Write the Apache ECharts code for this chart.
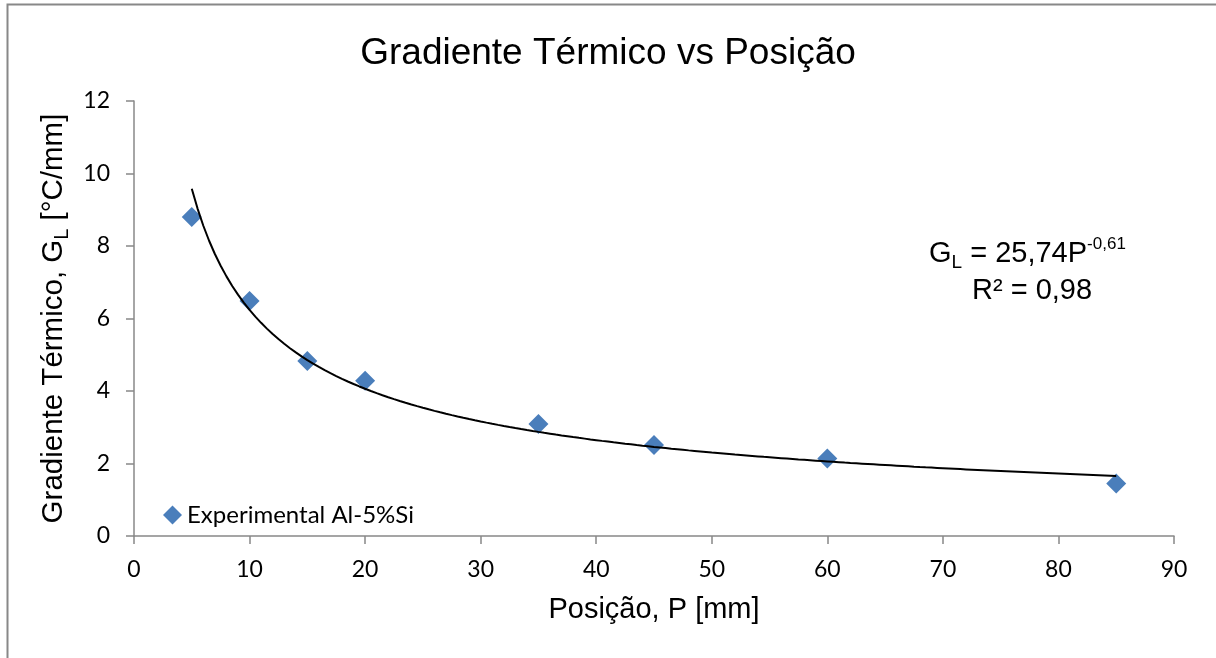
<!DOCTYPE html>
<html>
<head>
<meta charset="utf-8">
<script src="https://cdn.jsdelivr.net/npm/echarts@6/dist/echarts.min.js"></script>
<style>
html,body{margin:0;padding:0;background:#fff;}
#chart{width:1216px;height:658px;}
</style>
</head>
<body>
<div id="chart"></div>
<script>
// ---- data ----
const positions = [5, 10, 15, 20, 35, 45, 60, 85];          // P [mm]
const gradients = [8.80, 6.48, 4.83, 4.28, 3.09, 2.51, 2.14, 1.45]; // G_L [°C/mm]
const xTicks = [0, 10, 20, 30, 40, 50, 60, 70, 80, 90];
const yTicks = [0, 2, 4, 6, 8, 10, 12];
const seriesName = 'Experimental Al-5%Si';
const titleText = 'Gradiente Térmico vs Posição';
const eqCoef = '25,74';
const eqExp = '-0,61';
const r2Text = 'R² = 0,98';

// power trendline (least squares in log-log space, as Excel does), fitted from the data
function powerFit(xs, ys) {
  const n = xs.length;
  let sx = 0, sy = 0, sxx = 0, sxy = 0;
  for (let i = 0; i < n; i++) {
    const lx = Math.log(xs[i]), ly = Math.log(ys[i]);
    sx += lx; sy += ly; sxx += lx * lx; sxy += lx * ly;
  }
  const b = (n * sxy - sx * sy) / (n * sxx - sx * sx);
  const a = Math.exp((sy - b * sx) / n);
  return { a, b };
}
const fit = powerFit(positions, gradients);
const xMin = positions[0], xMax = positions[positions.length - 1];
const trend = [];
for (let i = 0; i <= 160; i++) {
  const x = xMin + (xMax - xMin) * i / 160;
  trend.push([x, fit.a * Math.pow(x, fit.b)]);
}

const chart = echarts.init(document.getElementById('chart'), null, { renderer: 'canvas' });
const arial = 'Liberation Sans, Arial, sans-serif';
const calibri = 'Lato, Carlito, Calibri, sans-serif';
const axisColor = '#888888';

chart.setOption({
  animation: false,
  backgroundColor: '#ffffff',
  title: {
    text: titleText,
    left: 'center',
    top: 30,
    textStyle: { fontFamily: arial, fontSize: 37, fontWeight: 'normal', color: '#000' }
  },
  legend: {
    left: 158,
    top: 498,
    icon: 'diamond',
    itemWidth: 19,
    itemHeight: 19,
    itemGap: 6,
    data: [seriesName],
    textStyle: { fontFamily: calibri, fontSize: 24, color: '#000' }
  },
  grid: { left: 134, right: 42, top: 101, bottom: 122, containLabel: false },
  xAxis: {
    type: 'value',
    min: xTicks[0],
    max: xTicks[xTicks.length - 1],
    interval: 10,
    name: 'Posição, P [mm]',
    nameLocation: 'middle',
    nameGap: 59,
    nameTextStyle: { fontFamily: arial, fontSize: 29, color: '#000' },
    axisLine: { show: true, onZero: false, lineStyle: { color: axisColor, width: 1.5 } },
    axisTick: { show: true, inside: false, length: 8, lineStyle: { color: axisColor, width: 1.5 } },
    axisLabel: { margin: 22, fontFamily: calibri, fontSize: 23, color: '#000' },
    splitLine: { show: false }
  },
  yAxis: {
    type: 'value',
    min: yTicks[0],
    max: yTicks[yTicks.length - 1],
    interval: 2,
    name: '{m|Gradiente Térmico, G}{s|L}{m| [°C/mm]}',
    nameLocation: 'middle',
    nameGap: 56,
    nameRotate: 90,
    nameTextStyle: {
      fontFamily: arial, fontSize: 29.5, color: '#000',
      rich: {
        m: { fontFamily: arial, fontSize: 29.5, color: '#000', lineHeight: 37 },
        s: { fontFamily: arial, fontSize: 20, color: '#000', lineHeight: 6, verticalAlign: 'bottom' }
      }
    },
    axisLine: { show: true, onZero: false, lineStyle: { color: axisColor, width: 1.5 } },
    axisTick: { show: true, inside: false, length: 8, lineStyle: { color: axisColor, width: 1.5 } },
    axisLabel: { margin: 24, fontFamily: calibri, fontSize: 23, color: '#000' },
    splitLine: { show: false }
  },
  graphic: [
    {
      type: 'rect',
      silent: true,
      shape: { x: 7.5, y: 4.5, width: 1300, height: 800 },
      style: { fill: 'none', stroke: '#888888', lineWidth: 2 },
      z: 100
    },
    {
      type: 'text',
      silent: true,
      left: 929,
      top: 236,
      style: {
        text: '{m|G}{s|L}{m| = ' + eqCoef + 'P}{p|' + eqExp + '}',
        fill: '#000',
        font: '29px ' + arial,
        rich: {
          m: { fontFamily: arial, fontSize: 29, fill: '#000', lineHeight: 36 },
          s: { fontFamily: arial, fontSize: 19, fill: '#000', lineHeight: 6, verticalAlign: 'bottom' },
          p: { fontFamily: arial, fontSize: 17, fill: '#000', lineHeight: 30, verticalAlign: 'top' }
        }
      }
    },
    {
      type: 'text',
      silent: true,
      left: 972,
      top: 276,
      style: {
        text: r2Text,
        fill: '#000',
        font: '29px ' + arial
      }
    }
  ],
  series: [
    {
      name: seriesName,
      type: 'scatter',
      symbol: 'diamond',
      symbolSize: 20,
      itemStyle: { color: '#4a7ebb', opacity: 1 },
      data: positions.map((p, i) => [p, gradients[i]]),
      z: 3
    },
    {
      name: 'trend',
      type: 'line',
      data: trend,
      showSymbol: false,
      symbol: 'none',
      smooth: false,
      lineStyle: { color: '#000', width: 2 },
      z: 4
    }
  ]
});
</script>
</body>
</html>
